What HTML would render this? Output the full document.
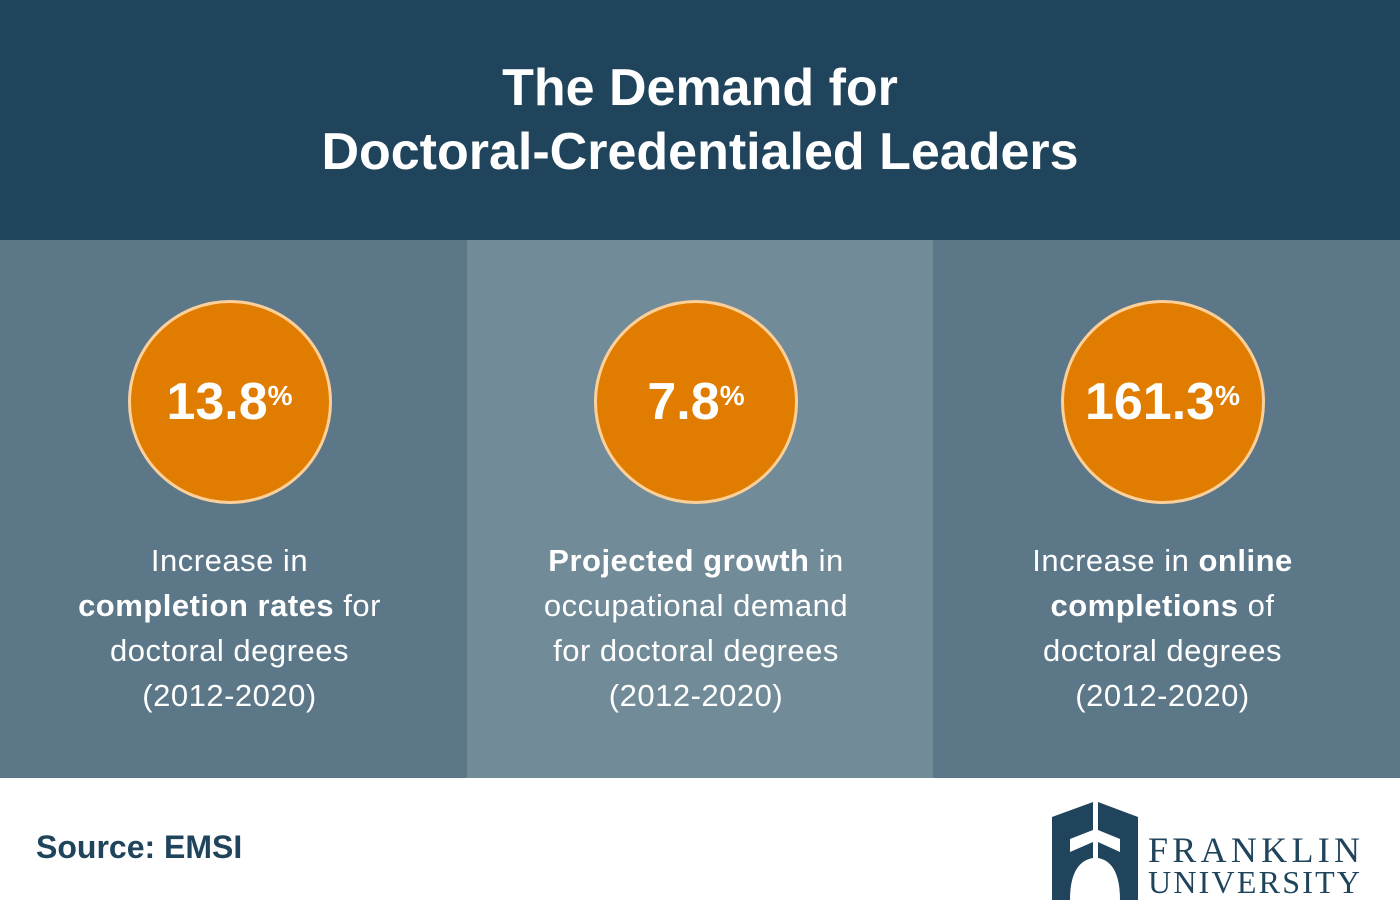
<!DOCTYPE html>
<html><head><meta charset="utf-8"><style>
body{margin:0;width:1400px;height:918px;background:#fff;font-family:"Liberation Sans","DejaVu Sans",sans-serif;overflow:hidden;position:relative}
.hdr{position:absolute;left:0;top:0;width:1400px;height:240px;background:#1f445c;color:#fff;text-align:center;font-weight:bold;font-size:52px;line-height:64px}
.hdr div{position:absolute;width:100%;top:56px}
.panel{position:absolute;top:240px;height:538px;width:467px}
.circ{position:absolute;left:50%;top:60px;width:198px;height:198px;margin-left:-106px;border-radius:50%;background:#e07c00;border:3px solid #fdd09a;color:#fff;font-weight:bold;font-size:52px;display:flex;align-items:center;justify-content:center}
.circ sup{font-size:28px;vertical-align:top;position:relative;top:-6px}
.txt{position:absolute;top:298px;left:-4px;width:100%;text-align:center;color:#fff;font-size:31px;line-height:45px;letter-spacing:0.5px}
.src{position:absolute;left:36px;top:829px;font-size:32px;font-weight:bold;color:#1f445c}
</style></head><body>
<div class="hdr"><div>The Demand for<br>Doctoral-Credentialed Leaders</div></div>
<div class="panel" style="left:0;background:#5b7788">
<div class="circ">13.8<sup>%</sup></div>
<div class="txt">Increase in<br><b>completion rates</b> for<br>doctoral degrees<br>(2012-2020)</div></div>
<div class="panel" style="left:467px;width:466px;background:#728b98">
<div class="circ">7.8<sup>%</sup></div>
<div class="txt"><b>Projected growth</b> in<br>occupational demand<br>for doctoral degrees<br>(2012-2020)</div></div>
<div class="panel" style="left:933px;background:#5b7788">
<div class="circ">161.3<sup>%</sup></div>
<div class="txt">Increase in <b>online</b><br><b>completions</b> of<br>doctoral degrees<br>(2012-2020)</div></div>
<div class="src">Source: EMSI</div>
<svg style="position:absolute;left:1040px;top:790px" width="340" height="120">
<path d="M12 27 L53 12 L53 40 L30 49 L30 62 L53 52 L53 68 Q30 72 30 110 L12 110 Z" fill="#1f445c"/>
<path d="M58 12 L98 27 L98 110 L80 110 Q80 72 58 68 L58 52 L80 62 L80 49 L58 40 Z" fill="#1f445c"/>
<text x="108" y="72" font-family="Liberation Serif,serif" font-size="36" fill="#1f445c" textLength="212" lengthAdjust="spacing">FRANKLIN</text>
<text x="108" y="103" font-family="Liberation Serif,serif" font-size="32" fill="#1f445c" textLength="212" lengthAdjust="spacing">UNIVERSITY</text>
</svg>
</body></html>
